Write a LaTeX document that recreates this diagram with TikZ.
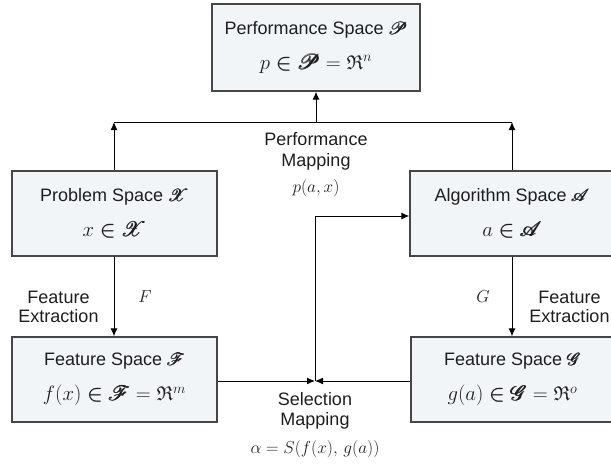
\documentclass[tikz,border=0pt]{standalone}
\usepackage{amsmath,amssymb,bm}
\usepackage{mathrsfs}
\usepackage{fontspec}
\setmainfont{Liberation Sans}
\usetikzlibrary{arrows.meta}
\definecolor{boxfill}{RGB}{242,245,247}
\definecolor{boxline}{RGB}{70,70,70}
\definecolor{txt}{RGB}{30,30,30}
\tikzset{
  spacebox/.style={draw=boxline, fill=boxfill, line width=1.3pt, inner sep=0pt,
    align=center, text=txt, font=\fontsize{18}{35}\selectfont},
  conn/.style={line width=1pt, draw=black},
  arr/.style={conn, -{Latex[length=8pt,width=7pt]}},
  lbl/.style={inner sep=0pt, align=center, text=txt, font=\fontsize{18}{23}\selectfont},
}
\newcommand{\myin}{\mathrel{\bm{\in}}}
\newcommand{\scr}[1]{\pmb{\mathscr{#1}}}
\newcommand{\mline}[1]{{\fontsize{20}{35}\selectfont$#1$}}
\begin{document}
\begin{tikzpicture}[x=1pt,y=-1pt]
\useasboundingbox (0,0) rectangle (611,471);
\node[spacebox, minimum width=208pt, minimum height=87pt] (perf) at (316,47.5)
  {Performance Space $\scr{P}$\\ \mline{p \myin \scr{P} = \mathfrak{R}^n}};
\node[spacebox, minimum width=205pt, minimum height=85pt] (prob) at (114.5,213.5)
  {Problem Space $\scr{X}$\\ \mline{x \myin \scr{X}}};
\node[spacebox, minimum width=204pt, minimum height=85pt] (alg) at (512,213.5)
  {Algorithm Space $\scr{A}$\\ \mline{a \myin \scr{A}}};
\node[spacebox, minimum width=205pt, minimum height=85pt] (featf) at (114.5,379.5)
  {Feature Space $\scr{F}$\\ \mline{f(x) \myin \scr{F} = \mathfrak{R}^m}};
\node[spacebox, minimum width=203pt, minimum height=85pt] (featg) at (512.5,379.5)
  {Feature Space $\scr{G}$\\ \mline{g(a) \myin \scr{G} = \mathfrak{R}^o}};

\coordinate (tl) at (114,122);
\coordinate (tr) at (512,122);
\coordinate (tm) at (316,122);
\coordinate (sel) at (315,381);
\coordinate (selup) at (315,216);

\draw[arr] (prob.north -| tl) -- (tl);
\draw[arr] (alg.north -| tr) -- (tr);
\draw[conn] (tl) -- (tr);
\draw[arr] (tm) -- (perf.south -| tm);

\draw[arr] (prob.south -| tl) -- (featf.north -| tl);
\draw[arr] (alg.south -| tr) -- (featg.north -| tr);

\draw[arr] (featf.east |- sel) -- (sel);
\draw[arr] (featg.west |- sel) -- (sel);
\draw[arr] (sel) -- (selup) -- (alg.west |- selup);

\node[lbl] (pm1) at (316,139) {Performance};
\node[lbl] (pm2) at (316,162) {Mapping};
\node[lbl] (pm3) at (316,188) {$p(a,x)$};

\node[lbl] (fe1) at (58.5,297) {Feature};
\node[lbl] (fe2) at (58.5,316) {Extraction};
\node[lbl] (flab) at (145,297) {$F$};
\node[lbl] (glab) at (483,297) {$G$};
\node[lbl] (ge1) at (569.5,297) {Feature};
\node[lbl] (ge2) at (569.5,316) {Extraction};

\node[lbl] (sm1) at (315,399) {Selection};
\node[lbl] (sm2) at (315,421) {Mapping};
\node[lbl] (sm3) at (315,449) {$\alpha = S(f(x),\, g(a))$};
\end{tikzpicture}
\end{document}
